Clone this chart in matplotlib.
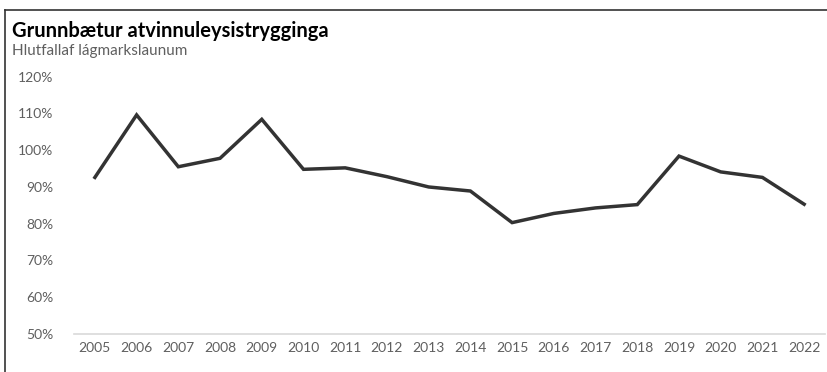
import matplotlib.pyplot as plt
from matplotlib.lines import Line2D
from matplotlib.ticker import FuncFormatter

years = [str(y) for y in range(2005, 2023)]
hlutfall = [92.6, 109.6, 95.5, 97.8, 108.4, 94.8, 95.2, 92.8, 90.0, 88.9,
            80.3, 82.8, 84.3, 85.2, 98.4, 94.1, 92.6, 85.3]
yticks = [50, 60, 70, 80, 90, 100, 110, 120]

plt.rcParams['font.family'] = ['Lato', 'DejaVu Sans']

fig = plt.figure(figsize=(8.28, 3.72), dpi=100)
ax = fig.add_axes([0.0894, 0.1022, 0.907, 0.6916])

x = range(len(years))
ax.plot(x, hlutfall, color='#333333', linewidth=2.5, solid_joinstyle='miter')

ax.set_xlim(-0.5, len(years) - 0.5)
ax.set_ylim(50, 120)
ax.set_xticks(list(x))
ax.set_xticklabels(years)
ax.set_yticks(yticks)
ax.yaxis.set_major_formatter(FuncFormatter(lambda v, p: f'{v:.0f}%'))
ax.tick_params(axis='both', length=0, labelsize=10, colors='#5f5f5f')
ax.tick_params(axis='x', pad=6)
ax.tick_params(axis='y', pad=15)

for s in ['top', 'right', 'left']:
    ax.spines[s].set_visible(False)
ax.spines['bottom'].set_color('#d9d9d9')
ax.spines['bottom'].set_linewidth(1.2)

fig.text(0.0145, 0.918, 'Grunnbætur atvinnuleysistrygginga', fontsize=14.5,
         fontweight='bold', color='#000000', va='center')
fig.text(0.0145, 0.862, 'Hlutfallaf lágmarkslaunum', fontsize=11,
         color='#5f5f5f', va='center')

# chart border (top and left edges visible)
fig.add_artist(Line2D([0.006, 1.0], [0.973, 0.973], color='#333333', linewidth=1.2))
fig.add_artist(Line2D([0.006, 0.006], [0.0, 0.973], color='#333333', linewidth=1.2))

fig.savefig('out.png', dpi=100)
